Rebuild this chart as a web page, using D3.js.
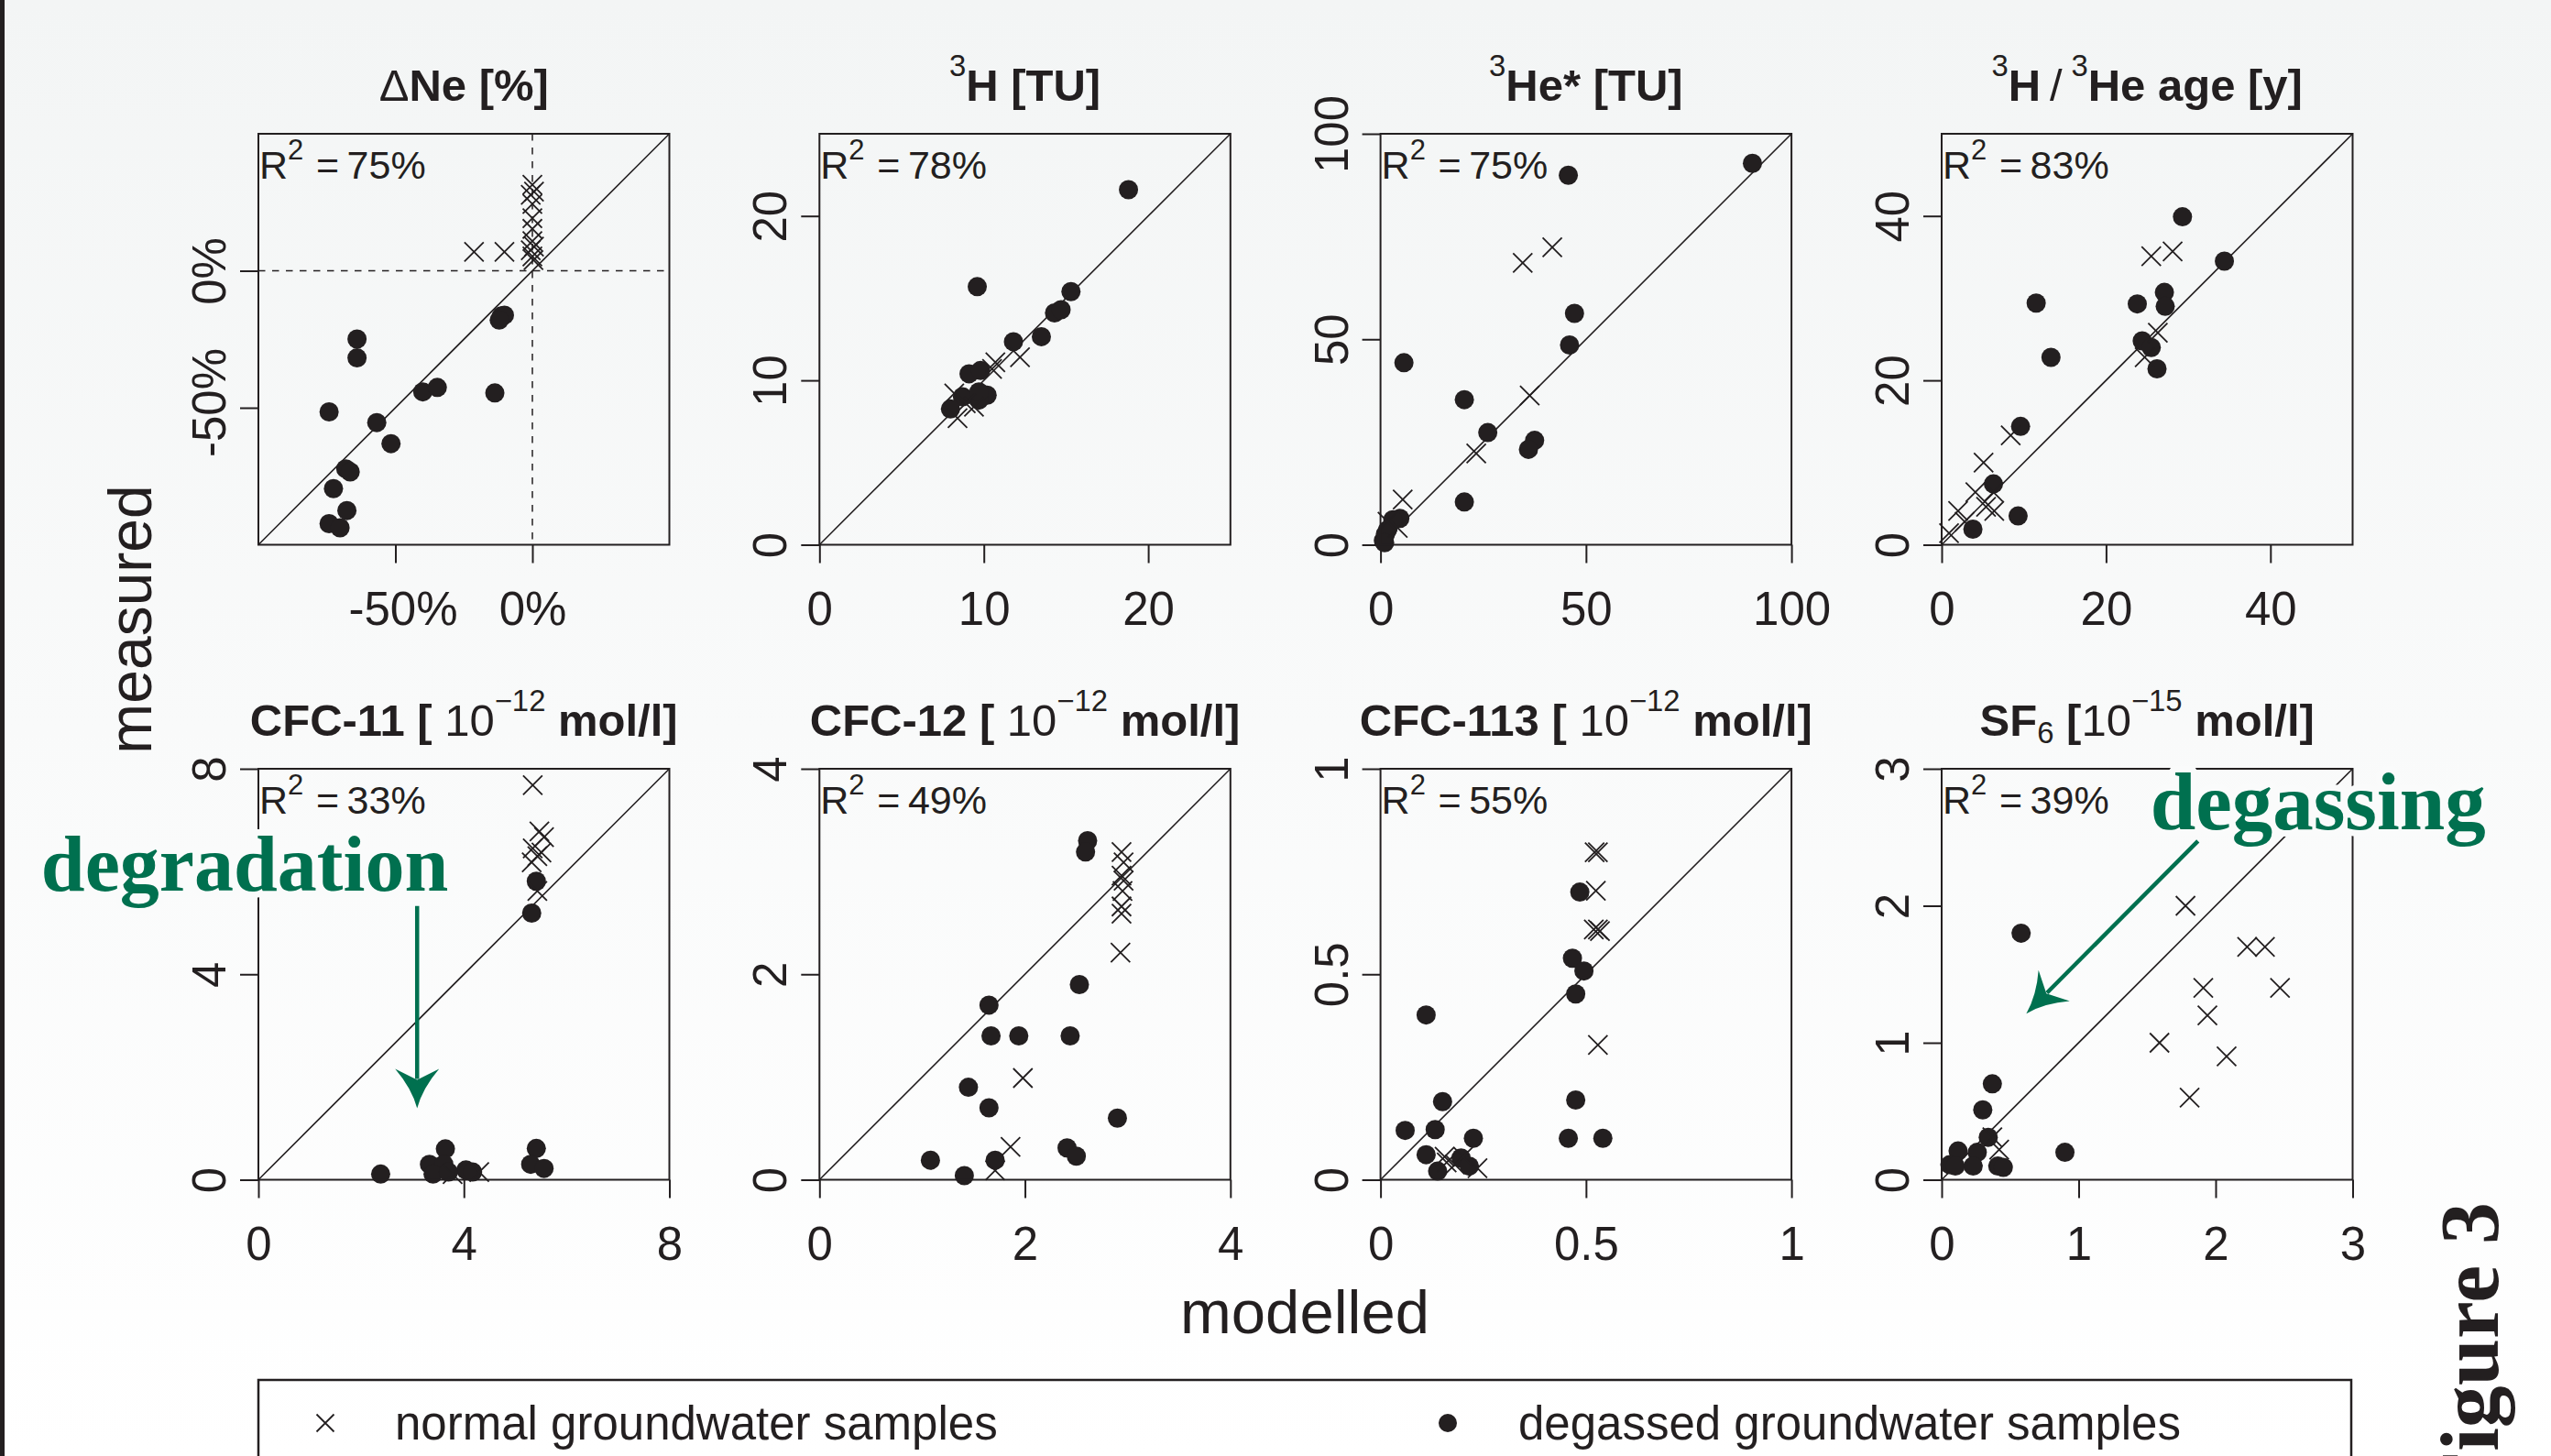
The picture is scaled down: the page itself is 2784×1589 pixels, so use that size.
<!DOCTYPE html>
<html>
<head>
<meta charset="utf-8">
<script src="https://cdn.jsdelivr.net/npm/d3@7"></script>
<style>
  html, body { margin: 0; padding: 0; }
  body { width: 2784px; height: 1589px; overflow: hidden; }
  text { font-family: "Liberation Sans", Arial, Helvetica, sans-serif; fill: #231f20; white-space: pre; }
  text.serif { font-family: "Liberation Serif", "Times New Roman", serif; }
</style>
</head>
<body>
<svg id="fig" width="2784" height="1589"></svg>
<script>
// ---------- data: [modelled, measured] ----------
const neNormal = [[-21.3,6.9],[-10.2,6.9],[0,31.4],[0.6,28.9],[-0.6,27.7],[0,24.4],[0,19.2],[0,15.3],[0,10.8],[0.6,8.8],[-0.6,7.5],[0,5.2],[0.4,3.9]];
const neDegassed = [[-11.3,-16.5],[-10.2,-16.2],[-12.1,-18],[-64,-24.9],[-64,-31.8],[-40,-44.2],[-34.7,-42.6],[-13.7,-44.6],[-74.2,-51.5],[-56.8,-55.4],[-51.6,-63.1],[-68.1,-72.3],[-66.5,-73.4],[-72.6,-79.5],[-67.7,-87.5],[-74.2,-92.3],[-70.2,-93.8]];

const h3Normal = [[12.2,11.4],[10.5,10.7],[10.7,11.1],[8.2,9.2],[8.4,7.7],[8.9,8.6],[9.4,8.4]];
const h3Degassed = [[18.8,21.6],[9.6,15.7],[15.3,15.4],[14.3,14.1],[14.7,14.3],[11.8,12.35],[13.5,12.66],[9.1,10.4],[9.8,10.6],[10.2,9.1],[9.7,8.8],[8.7,9.0],[7.97,8.26],[9.7,9.3]];

const heNormal = [[41.8,72.4],[34.6,68.6],[36.3,36.3],[23.3,22.2],[5.4,11.0],[4.2,4.1],[1.7,5.6]];
const heDegassed = [[90.5,92.8],[45.7,89.9],[47.2,56.3],[46.0,48.6],[5.7,44.3],[20.4,35.3],[26.1,27.3],[37.5,25.4],[36.0,23.2],[20.4,10.4],[4.7,6.4],[3.0,6.1],[1.2,2.6],[0.7,1.0],[1.7,3.6],[1.0,0.5]];

const ageNormal = [[25.5,35.1],[28.1,35.7],[26.3,25.8],[24.7,22.8],[8.4,13.3],[5.1,10.0],[4.1,6.4],[6.3,6.4],[5.4,4.6],[6.4,4.1],[2.0,4.1],[2.8,2.8],[0.9,1.4]];
const ageDegassed = [[29.3,39.9],[34.4,34.5],[11.5,29.4],[23.8,29.3],[27.1,30.7],[27.2,29.0],[24.4,24.8],[25.5,24.0],[26.2,21.4],[13.3,22.8],[9.6,14.4],[6.3,7.4],[9.3,3.5],[3.8,1.9]];

const cfc11Normal = [[5.34,7.68],[5.47,6.78],[5.56,6.67],[5.34,6.45],[5.43,6.30],[5.32,6.18],[5.51,6.37],[5.43,5.62],[3.78,0.11],[4.30,0.15]];
const cfc11Degassed = [[5.41,5.81],[5.32,5.19],[2.38,0.11],[3.64,0.6],[3.33,0.3],[3.61,0.3],[3.4,0.11],[4.04,0.19],[4.17,0.15],[5.41,0.61],[5.30,0.3],[5.56,0.22],[3.7,0.15]];

const cfc12Normal = [[2.94,3.19],[2.96,3.09],[2.94,2.96],[2.96,2.91],[2.95,2.81],[2.94,2.66],[2.94,2.59],[2.93,2.21],[1.98,0.99],[1.86,0.32],[1.71,0.09]];
const cfc12Degassed = [[2.61,3.30],[2.59,3.19],[2.53,1.90],[1.65,1.70],[1.67,1.40],[1.94,1.40],[2.44,1.40],[1.45,0.90],[1.65,0.70],[2.90,0.60],[2.41,0.31],[2.50,0.23],[1.08,0.19],[1.71,0.19],[1.41,0.04]];

const cfc113Normal = [[0.521,0.797],[0.529,0.797],[0.524,0.703],[0.519,0.609],[0.529,0.609],[0.534,0.605],[0.529,0.328],[0.156,0.056],[0.181,0.037],[0.201,0.056],[0.236,0.028],[0.161,0.042]];
const cfc113Degassed = [[0.485,0.700],[0.467,0.539],[0.495,0.508],[0.475,0.452],[0.111,0.401],[0.475,0.194],[0.151,0.190],[0.060,0.120],[0.133,0.122],[0.226,0.101],[0.457,0.101],[0.541,0.101],[0.111,0.061],[0.196,0.053],[0.216,0.033],[0.139,0.021]];

const sf6Normal = [[1.78,2.0],[2.23,1.70],[2.36,1.70],[1.91,1.40],[2.47,1.40],[1.94,1.20],[1.59,1.0],[2.08,0.90],[1.81,0.60],[0.42,0.22],[0.37,0.31]];
const sf6Degassed = [[0.58,1.80],[0.37,0.70],[0.30,0.51],[0.34,0.31],[0.90,0.20],[0.12,0.21],[0.26,0.20],[0.06,0.11],[0.10,0.10],[0.23,0.10],[0.41,0.10],[0.45,0.09]];

const r2Values = ["75%", "78%", "75%", "83%", "33%", "49%", "55%", "39%"];
const panelDomains = [[-100,50],[0,25],[0,100],[0,50],[0,8],[0,4],[0,1],[0,3]];
const panelTicks = [[-50,0],[0,10,20],[0,50,100],[0,20,40],[0,4,8],[0,2,4],[0,0.5,1],[0,1,2,3]];

// title pieces: [text, weight, "sup" | "sub" | undefined]
const panelTitles = [
  [["\u0394","normal"],["Ne [%]","bold"]],
  [["3","normal","sup"],["H [TU]","bold"]],
  [["3","normal","sup"],["He* [TU]","bold"]],
  [["3","normal","sup"],["H","bold"],["\u2009/\u2009","normal"],["3","normal","sup"],["He age [y]","bold"]],
  [["CFC-11 [ ","bold"],["10","normal"],["\u221212","normal","sup"],[" mol/l]","bold"]],
  [["CFC-12 [ ","bold"],["10","normal"],["\u221212","normal","sup"],[" mol/l]","bold"]],
  [["CFC-113 [ ","bold"],["10","normal"],["\u221212","normal","sup"],[" mol/l]","bold"]],
  [["SF","bold"],["6","normal","sub"],[" [","bold"],["10","normal"],["\u221215","normal","sup"],[" mol/l]","bold"]]
];

const legendLabels = ["normal groundwater samples", "degassed groundwater samples"];

// annotations in data units of their panel
const degradationNote = { panel: 4, label: "degradation", at: [-4.23, 5.63], from: [3.09, 5.33], to: [3.09, 1.39] };
const degassingNote = { panel: 7, label: "degassing", at: [1.523, 2.559], from: [1.871, 2.472], to: [0.618, 1.213] };

// ---------- layout ----------
const ink = "#231f20";
const green = "#00704f";
const halo = "#fafbfb";
const colLeft = [282, 894.3, 1506.6, 2119];
const rowTop = [146, 839];
const S = 448.5;

const svg = d3.select("#fig");

const defs = svg.append("defs");
const grad = defs.append("linearGradient").attr("id", "bg").attr("x1", 0).attr("y1", 0).attr("x2", 0).attr("y2", 1);
grad.append("stop").attr("offset", "0%").attr("stop-color", "#f3f5f5");
grad.append("stop").attr("offset", "100%").attr("stop-color", "#ffffff");
svg.append("rect").attr("width", 2784).attr("height", 1589).attr("fill", "url(#bg)");
svg.append("rect").attr("x", 0).attr("y", 0).attr("width", 5).attr("height", 1589).attr("fill", ink);

function richText(sel, parts, size, supScale, supRise) {
  let shift = 0;
  parts.forEach(([txt, weight, mode]) => {
    const target = mode === "sup" ? -supRise * size : mode === "sub" ? 0.17 * size : 0;
    sel.append("tspan")
      .text(txt)
      .attr("font-weight", weight)
      .attr("font-size", mode ? size * supScale : size)
      .attr("dy", target - shift);
    shift = target;
  });
}

const normalSeries = [neNormal, h3Normal, heNormal, ageNormal, cfc11Normal, cfc12Normal, cfc113Normal, sf6Normal];
const degassedSeries = [neDegassed, h3Degassed, heDegassed, ageDegassed, cfc11Degassed, cfc12Degassed, cfc113Degassed, sf6Degassed];

const crossPath = s => `M${-s},${-s}L${s},${s}M${-s},${s}L${s},${-s}`;
const scales = [];

panelDomains.forEach((dom, i) => {
  const col = i % 4, row = Math.floor(i / 4);
  const g = svg.append("g").attr("transform", `translate(${colLeft[col]},${rowTop[row]})`);
  const x = d3.scaleLinear().domain(dom).range([0, S]);
  const y = d3.scaleLinear().domain(dom).range([S, 0]);
  scales.push({ x, y, ox: colLeft[col], oy: rowTop[row] });
  const fmt = i === 0 ? (d => d + "%") : (d => String(d));

  // x axis
  const xa = g.append("g").attr("transform", `translate(0,${S})`)
    .call(d3.axisBottom(x).tickValues(panelTicks[i]).tickFormat(fmt).tickSize(20).tickSizeOuter(0));
  xa.select(".domain").remove();
  xa.selectAll("line").attr("stroke", ink).attr("stroke-width", 2);
  xa.selectAll("text").attr("y", 87).attr("dy", null)
    .attr("dx", d => d < 0 ? 8 : 0)
    .attr("font-size", 51).attr("fill", ink);

  // y axis, labels parallel to the axis
  const ya = g.append("g")
    .call(d3.axisLeft(y).tickValues(panelTicks[i]).tickFormat(fmt).tickSize(20).tickSizeOuter(0));
  ya.select(".domain").remove();
  ya.selectAll("line").attr("stroke", ink).attr("stroke-width", 2);
  ya.selectAll("text").attr("x", 0).attr("y", 0).attr("dy", null)
    .attr("dx", d => d < 0 ? 6 : 0)
    .attr("transform", "translate(-36,0) rotate(-90)")
    .attr("text-anchor", "middle")
    .attr("font-size", 51).attr("fill", ink);

  // 1:1 line
  g.append("line")
    .attr("x1", x(dom[0])).attr("y1", y(dom[0]))
    .attr("x2", x(dom[1])).attr("y2", y(dom[1]))
    .attr("stroke", ink).attr("stroke-width", 1.6);

  if (i === 0) {
    g.append("line").attr("x1", x(0)).attr("x2", x(0)).attr("y1", 0).attr("y2", S)
      .attr("stroke", ink).attr("stroke-width", 1.5).attr("stroke-dasharray", "7.5,7.5");
    g.append("line").attr("x1", 0).attr("x2", S).attr("y1", y(0)).attr("y2", y(0))
      .attr("stroke", ink).attr("stroke-width", 1.5).attr("stroke-dasharray", "7.5,7.5");
  }

  g.selectAll(".dot").data(degassedSeries[i]).enter().append("circle")
    .attr("class", "dot")
    .attr("cx", d => x(d[0])).attr("cy", d => y(d[1])).attr("r", 10.5)
    .attr("fill", ink);

  g.selectAll(".cross").data(normalSeries[i]).enter().append("path")
    .attr("class", "cross")
    .attr("transform", d => `translate(${x(d[0])},${y(d[1])})`)
    .attr("d", crossPath(10.5))
    .attr("fill", "none").attr("stroke", ink).attr("stroke-width", 1.8);

  g.append("rect").attr("width", S).attr("height", S)
    .attr("fill", "none").attr("stroke", ink).attr("stroke-width", 2);

  // R^2
  const r2 = g.append("text").attr("x", 1).attr("y", 49).attr("xml:space", "preserve");
  richText(r2, [["R","normal"],["2","normal","sup"],["\u2009=\u2009" + r2Values[i],"normal"]], 43, 0.72, 0.48);
  r2.selectAll("tspan").filter((d, k) => k === 2).attr("dx", 5);

  // title
  const t = g.append("text").attr("x", S / 2).attr("y", -36)
    .attr("text-anchor", "middle").attr("xml:space", "preserve");
  richText(t, panelTitles[i], 49, 0.67, 0.55);
});

// shared axis titles
svg.append("text").text("measured")
  .attr("transform", "translate(165,676) rotate(-90)")
  .attr("text-anchor", "middle").attr("font-size", 66);
svg.append("text").text("modelled")
  .attr("x", 1424).attr("y", 1455)
  .attr("text-anchor", "middle").attr("font-size", 67);

// legend
svg.append("rect").attr("x", 282).attr("y", 1506).attr("width", 2284).attr("height", 160)
  .attr("fill", "none").attr("stroke", ink).attr("stroke-width", 2.5);
svg.append("path").attr("transform", "translate(355,1553)").attr("d", crossPath(9.5))
  .attr("fill", "none").attr("stroke", ink).attr("stroke-width", 1.8);
svg.append("text").text(legendLabels[0]).attr("x", 431).attr("y", 1571).attr("font-size", 51);
svg.append("circle").attr("cx", 1580).attr("cy", 1553).attr("r", 10).attr("fill", ink);
svg.append("text").text(legendLabels[1]).attr("x", 1657).attr("y", 1571).attr("font-size", 51);

// green annotations
function annotate(note, size) {
  const sc = scales[note.panel];
  const px = p => [sc.ox + sc.x(p[0]), sc.oy + sc.y(p[1])];
  const [tx, ty] = px(note.at);
  svg.append("text").text(note.label)
    .attr("class", "serif")
    .attr("x", tx).attr("y", ty)
    .attr("font-weight", "bold").attr("font-size", size)
    .style("fill", green)
    .attr("stroke", halo).attr("stroke-width", 14).attr("stroke-linejoin", "round")
    .attr("paint-order", "stroke");

  const [x0, y0] = px(note.from), [x1, y1] = px(note.to);
  const len = Math.hypot(x1 - x0, y1 - y0);
  const ux = (x1 - x0) / len, uy = (y1 - y0) / len;
  const nx = -uy, ny = ux;
  const hl = 43, hw = 24;
  svg.append("line")
    .attr("x1", x0).attr("y1", y0)
    .attr("x2", x1 - ux * 32).attr("y2", y1 - uy * 32)
    .attr("stroke", green).attr("stroke-width", 4.5);
  const pt = (a, b) => `${x1 - ux * a + nx * b},${y1 - uy * a + ny * b}`;
  svg.append("path")
    .attr("d", `M${pt(0,0)}Q${pt(22,6)} ${pt(hl,hw)}L${pt(31,0)}L${pt(hl,-hw)}Q${pt(22,-6)} ${pt(0,0)}Z`)
    .attr("fill", green);
}
annotate(degradationNote, 86);
annotate(degassingNote, 89);

// side caption (cut by the page edge, as in the source)
svg.append("text").text("Figure 3")
  .attr("class", "serif")
  .attr("transform", "translate(2726,1312) rotate(-90)")
  .attr("text-anchor", "end")
  .attr("font-weight", "bold").attr("font-size", 92);
</script>
</body>
</html>
